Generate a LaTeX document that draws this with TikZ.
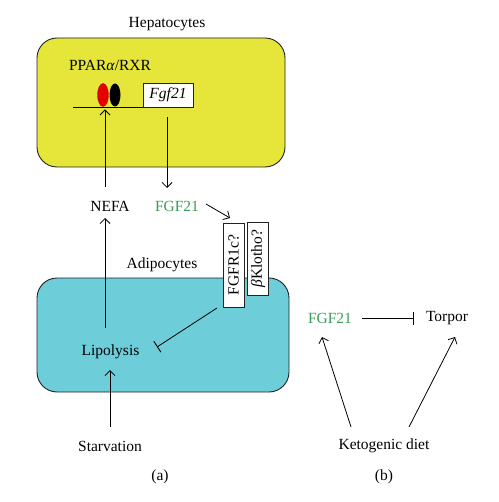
\documentclass[tikz,border=0pt]{standalone}
\usepackage{fontspec}
\setmainfont{Liberation Serif}
\usetikzlibrary{arrows.meta,shapes.geometric}
\definecolor{hepyel}{HTML}{E6E63A}
\definecolor{adicyan}{HTML}{6DCDD9}
\definecolor{fgfgreen}{HTML}{3C9A5A}
\definecolor{boxline}{HTML}{222222}
\tikzset{
  lbl/.style={font=\fontsize{15.5}{18}\selectfont, inner sep=0pt},
  grn/.style={lbl, text=fgfgreen},
  cell/.style={draw=boxline, line width=0.9pt, rounded corners=20pt},
  arr/.style={-{Straight Barb[length=5pt,width=10pt]}, line width=0.8pt},
  inh/.style={-{Bar[width=13pt,line width=0.9pt]}, line width=0.8pt},
  rbox/.style={draw=boxline, fill=white, line width=0.8pt, rotate=90, inner sep=0pt,
     font=\fontsize{15.5}{18}\selectfont, minimum height=21pt},
}
\begin{document}
\begin{tikzpicture}[x=1pt,y=-1pt]
\useasboundingbox[fill=white] (0,0) rectangle (498,502);
% cells
\draw[cell, fill=hepyel] (37,38) rectangle (285,167);
\draw[cell, fill=adicyan] (37,278) rectangle (289,392);
% labels
\node[lbl] (hep) at (167,24) {Hepatocytes};
\node[lbl] (adi) at (162,265) {Adipocytes};
\node[lbl] (ppar) at (110,65) {PPAR\textit{α}/RXR};
% gene
\coordinate (gl) at (73,107);
\coordinate (gr) at (193,107);
\draw[line width=0.9pt] (gl) -- (gr);
\node[draw=boxline, fill=white, line width=0.8pt, minimum width=50pt, minimum height=24pt,
  inner sep=0pt, font=\fontsize{15.5}{18}\selectfont\itshape] (fgfg) at (168,95) {Fgf21};
\node[ellipse, fill=black, minimum width=11pt, minimum height=23pt, inner sep=0pt] (rxr) at (115,95) {};
\node[ellipse, fill=red!90!black, draw=red!70!black, line width=0.3pt, minimum width=11pt, minimum height=23pt, inner sep=0pt] (ppa) at (103,95) {};
% texts
\node[lbl] (nefa) at (110,206) {NEFA};
\node[grn] (fgf) at (177,206) {FGF21};
\node[lbl] (lipo) at (110.5,352) {Lipolysis};
\node[lbl] (starv) at (110,446) {Starvation};
\node[lbl] (la) at (160,477) {(a)};
% receptors
\node[rbox, minimum width=84pt] (fgfr) at (233.5,265) {FGFR1c?};
\node[rbox, minimum width=73pt] (klotho) at (258,258.5) {\textit{β}Klotho?};
% arrows
\coordinate (n1) at (105,187);
\coordinate (n2) at (105,109.5);
\draw[arr] (n1) -- (n2);
\coordinate (f1) at (167,117);
\coordinate (f2) at (167,188);
\draw[arr] (f1) -- (f2);
\coordinate (g1) at (206,204);
\coordinate (g2) at (230,218);
\draw[arr] (g1) -- (g2);
\coordinate (l1) at (105,328);
\coordinate (l2) at (105,218);
\draw[arr] (l1) -- (l2);
\coordinate (s1) at (110,427);
\coordinate (s2) at (110,370);
\draw[arr] (s1) -- (s2);
\coordinate (i1) at (217,308);
\coordinate (i2) at (157,347);
\draw[inh] (i1) -- (i2);
% part b
\node[grn] (fgfb) at (330,318) {FGF21};
\node[lbl] (torpor) at (447,318) {Torpor};
\node[lbl] (keto) at (384,446) {Ketogenic diet};
\node[lbl] (lb) at (384,477) {(b)};
\coordinate (t1) at (362,318);
\coordinate (t2) at (414,318);
\draw[inh] (t1) -- (t2);
\coordinate (k1) at (351,427);
\coordinate (k2) at (322,337);
\draw[arr] (k1) -- (k2);
\coordinate (k3) at (409,427);
\coordinate (k4) at (455,337);
\draw[arr] (k3) -- (k4);
\end{tikzpicture}
\end{document}
